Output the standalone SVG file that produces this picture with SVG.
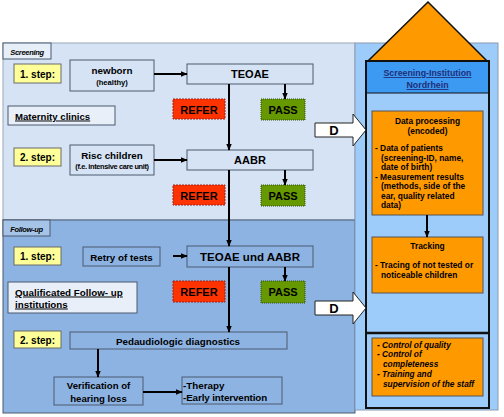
<svg xmlns="http://www.w3.org/2000/svg" width="504" height="417" viewBox="0 0 504 417">
<defs>
<marker id="ah" viewBox="0 0 10 10" refX="9" refY="5" markerWidth="7" markerHeight="7" orient="auto" markerUnits="userSpaceOnUse">
<path d="M0,1 L10,5 L0,9 z" fill="#000"/>
</marker>
<style>
text{font-family:"Liberation Sans",Arial,sans-serif;font-weight:bold;fill:#000}
.c{text-anchor:middle}
.box{stroke:#4A5A6E;stroke-width:1}
.step{fill:#FFFF99;stroke:#6B6B6B;stroke-width:1}
.refer{fill:#FF3300;stroke:#A02010;stroke-width:1;stroke-dasharray:2,1}
.pass{fill:#669900;stroke:#2E4A00;stroke-width:1;stroke-dasharray:1,1}
.con{stroke:#000;stroke-width:2;fill:none;marker-end:url(#ah)}
.org{fill:#FF9900;stroke:#555;stroke-width:1}
.dar{fill:#fff;stroke:#222;stroke-width:1}
.hd{fill:#1F2F7A}
</style>
</defs>
<rect width="504" height="417" fill="#fff"/>

<g id="screening-panel">
<rect x="3" y="43" width="352" height="177" fill="#D5E3F4" stroke="#9AA7B8"/>
<rect x="3" y="43" width="48" height="16" fill="#E6EEF8" stroke="#4A5A6E"/>
<text x="27" y="54.5" class="c" font-size="7.5" font-style="italic" letter-spacing="-0.3">Screening</text>
</g>
<g id="followup-panel">
<rect x="3" y="220" width="352" height="193" fill="#8DB3E2" stroke="#4A5A6E"/>
<rect x="3" y="220" width="47" height="16" fill="#A6C3E8" stroke="#4A5A6E"/>
<text x="26.5" y="231.5" class="c" font-size="7.5" font-style="italic" letter-spacing="-0.3">Follow-up</text>
</g>
<g id="institution-panel">
<rect x="355" y="43" width="143" height="367" fill="#9DCBFA" stroke="#8A9AB0"/>
<polygon points="428,2 368,61 487,61" fill="#FF9900" stroke="#111" stroke-width="1.5"/>
<rect x="366" y="61" width="123" height="347" fill="none" stroke="#111" stroke-width="2"/>
<rect x="367" y="62" width="121" height="31" fill="#3D9AF2"/>
<line x1="366" y1="93" x2="489" y2="93" stroke="#111" stroke-width="1"/>
<text x="427.5" y="76" class="c hd" font-size="8.8" text-decoration="underline">Screening-Institution</text>
<text x="427.5" y="88" class="c hd" font-size="8.8" text-decoration="underline">Nordrhein</text>
<line x1="366" y1="333" x2="489" y2="333" stroke="#111" stroke-width="2.5"/>
</g>

<g id="step1-s"><rect x="14" y="64" width="47" height="19" class="step"/><text x="37.5" y="77.5" class="c" font-size="10">1. step:</text></g>
<g id="newborn"><rect x="70" y="60" width="84" height="31" fill="#D5E3F4" class="box"/><text x="112" y="74" class="c" font-size="9.8">newborn</text><text x="112" y="84.5" class="c" font-size="7.6">(healthy)</text></g>
<g id="teoae"><rect x="187" y="64" width="126" height="20" fill="#D5E3F4" class="box"/><text x="250" y="78" class="c" font-size="11">TEOAE</text></g>
<g id="maternity"><rect x="8" y="106" width="107" height="19" fill="#E8EFF9" class="box"/><text x="15" y="119.5" font-size="9.6" text-decoration="underline">Maternity clinics</text></g>
<g id="refer1"><rect x="173" y="99" width="52" height="20" class="refer"/><text x="199" y="113.5" class="c" font-size="11">REFER</text></g>
<g id="pass1"><rect x="261" y="99" width="44" height="21" class="pass"/><text x="283" y="113.5" class="c" font-size="11">PASS</text></g>

<g id="step2-s"><rect x="14" y="148" width="47" height="18" class="step"/><text x="37.5" y="161" class="c" font-size="10">2. step:</text></g>
<g id="risc"><rect x="70" y="145" width="84" height="30" fill="#D5E3F4" class="box"/><text x="112" y="158.5" class="c" font-size="9.8">Risc children</text><text x="112" y="169" class="c" font-size="7.4" letter-spacing="-0.35">(f.e. intensive care unit)</text></g>
<g id="aabr"><rect x="187" y="150" width="126" height="20" fill="#D5E3F4" class="box"/><text x="250" y="164" class="c" font-size="11">AABR</text></g>
<g id="refer2"><rect x="173" y="185" width="52" height="20" class="refer"/><text x="199" y="199.5" class="c" font-size="11">REFER</text></g>
<g id="pass2"><rect x="261" y="185" width="44" height="21" class="pass"/><text x="283" y="199.5" class="c" font-size="11">PASS</text></g>

<g id="step1-f"><rect x="14" y="247" width="47" height="18" class="step"/><text x="37.5" y="260" class="c" font-size="10">1. step:</text></g>
<g id="retry"><rect x="83" y="247" width="77" height="19" fill="#8DB3E2" class="box"/><text x="121.5" y="260.5" class="c" font-size="9.8">Retry of tests</text></g>
<g id="teoae-aabr"><rect x="187" y="246" width="126" height="21" fill="#8DB3E2" class="box"/><text x="250" y="260.5" class="c" font-size="11.5">TEOAE und AABR</text></g>
<g id="qualificated"><rect x="8" y="282" width="129" height="31" fill="#E8EFF9" class="box"/><text x="15" y="295.5" font-size="9.8" text-decoration="underline">Qualificated Follow- up</text><text x="15" y="307.5" font-size="9.8" text-decoration="underline">institutions</text></g>
<g id="refer3"><rect x="173" y="281" width="52" height="21" class="refer"/><text x="199" y="295.5" class="c" font-size="11">REFER</text></g>
<g id="pass3"><rect x="261" y="281" width="44" height="22" class="pass"/><text x="283" y="296" class="c" font-size="11">PASS</text></g>

<g id="step2-f"><rect x="14" y="331" width="47" height="17" class="step"/><text x="37.5" y="343.5" class="c" font-size="10">2. step:</text></g>
<g id="pedaudiologic"><rect x="70" y="332" width="217" height="17" fill="#8DB3E2" class="box"/><text x="178" y="344.5" class="c" font-size="9.8">Pedaudiologic diagnostics</text></g>
<g id="verification"><rect x="54" y="377" width="89" height="28" fill="#8DB3E2" class="box"/><text x="98.5" y="389" class="c" font-size="9.6">Verification of</text><text x="98.5" y="401.5" class="c" font-size="9.6">hearing loss</text></g>
<g id="therapy"><rect x="182" y="377" width="100" height="27" fill="#8DB3E2" class="box"/><text x="183" y="389" font-size="9.8">-Therapy</text><text x="183" y="401" font-size="9.8" letter-spacing="-0.1">-Early intervention</text></g>

<g id="data-processing"><rect x="372" y="111" width="111" height="104" class="org"/>
<text x="427.5" y="124" class="c" font-size="8.4">Data processing</text>
<text x="427.5" y="134" class="c" font-size="8.4">(encoded)</text>
<text x="375" y="151" font-size="8.4">- Data of patients</text>
<text x="381" y="160.5" font-size="8.4">(screening-ID, name,</text>
<text x="381" y="170" font-size="8.4">date of birth)</text>
<text x="375" y="179.5" font-size="8.4">- Measurement results</text>
<text x="381" y="189" font-size="8.4">(methods, side of the</text>
<text x="381" y="198.5" font-size="8.4">ear, quality related</text>
<text x="381" y="208" font-size="8.4">data)</text>
</g>
<g id="tracking"><rect x="372" y="237" width="111" height="56" class="org"/>
<text x="427.5" y="249" class="c" font-size="8.4">Tracking</text>
<text x="375" y="268" font-size="8.4">- Tracing of not tested or</text>
<text x="381" y="277.5" font-size="8.4">noticeable children</text>
</g>
<g id="quality"><rect x="372" y="338" width="111" height="58" class="org"/>
<text x="377" y="348" font-size="8.3" font-style="italic">- Control of quality</text>
<text x="377" y="357" font-size="8.3" font-style="italic">- Control of</text>
<text x="383" y="367" font-size="8.3" font-style="italic">completeness</text>
<text x="377" y="377" font-size="8.3" font-style="italic">- Training and</text>
<text x="383" y="387" font-size="8.3" font-style="italic">supervision of the staff</text>
</g>

<g id="d-arrow-1"><path d="M315,123 H353 V114 L366,130 L353,146 V137 H315 Z" class="dar"/><text x="334" y="135" class="c" font-size="13">D</text></g>
<g id="d-arrow-2"><path d="M315,301 H353 V292 L366,308 L353,324 V315 H315 Z" class="dar"/><text x="334" y="313" class="c" font-size="13">D</text></g>

<g id="connectors">
<line x1="154" y1="74" x2="187" y2="74" class="con"/>
<line x1="154" y1="160" x2="187" y2="160" class="con"/>
<line x1="229" y1="84" x2="229" y2="150" class="con"/>
<line x1="285" y1="84" x2="285" y2="99" class="con"/>
<line x1="229" y1="170" x2="229" y2="246" class="con"/>
<line x1="285" y1="170" x2="285" y2="185" class="con"/>
<line x1="173" y1="256" x2="187" y2="256" class="con"/>
<line x1="229" y1="267" x2="229" y2="332" class="con"/>
<line x1="285" y1="267" x2="285" y2="281" class="con"/>
<line x1="98" y1="349" x2="98" y2="377" class="con"/>
<line x1="143" y1="392" x2="182" y2="392" class="con"/>
<line x1="427" y1="215" x2="427" y2="237" class="con"/>
</g>
</svg>
